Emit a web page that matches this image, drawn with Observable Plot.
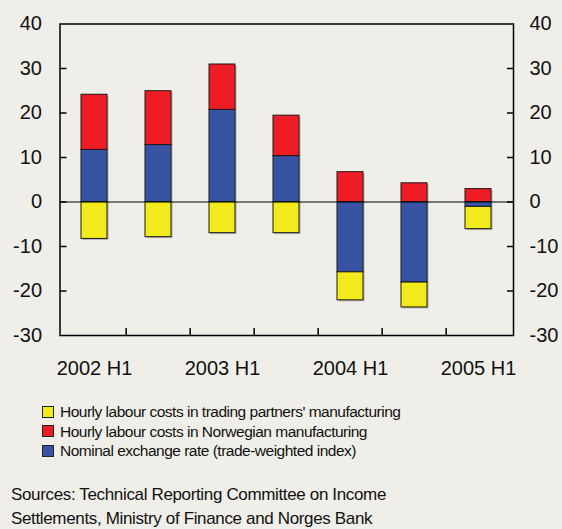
<!DOCTYPE html>
<html><head><meta charset="utf-8">
<script src="https://cdn.jsdelivr.net/npm/d3@7"></script>
<script src="https://cdn.jsdelivr.net/npm/@observablehq/plot@0.6"></script>
<style>
html,body{margin:0;padding:0;background:#f0eee8;}
body{width:562px;height:529px;overflow:hidden;font-family:"Liberation Sans",Arial,sans-serif;color:#111;}
#legend{position:absolute;left:42px;top:402px;font-size:15.5px;letter-spacing:-0.5px;line-height:19.5px;}
.item{display:flex;align-items:center;height:19.5px;}
.sw{width:10px;height:10px;border:1px solid #222;margin-right:6px;}
#src{position:absolute;left:11px;top:483px;font-size:17px;line-height:23.5px;letter-spacing:-0.35px;}
</style></head>
<body>
<div id="chart"></div>
<div id="legend"></div>
<div id="src">Sources: Technical Reporting Committee on Income<br>Settlements, Ministry of Finance and Norges Bank</div>
<script>
const periods = ["2002 H1","2002 H2","2003 H1","2003 H2","2004 H1","2004 H2","2005 H1"];
const exchangeRate = [11.7, 12.8, 20.7, 10.3, -15.8, -18.1, -1.1];
const norwegianCosts = [12.4, 12.1, 10.2, 9.1, 6.7, 4.2, 2.9];
const partnerCosts = [-8.3, -7.9, -7.0, -7.0, -6.3, -5.6, -5.0];
const seriesNames = [
  "Nominal exchange rate (trade-weighted index)",
  "Hourly labour costs in Norwegian manufacturing",
  "Hourly labour costs in trading partners' manufacturing"
];
const seriesColors = ["#3953a4", "#ee1c25", "#f2ea1a"];
const legendOrder = [2, 1, 0];
const yTicks = [-30, -20, -10, 0, 10, 20, 30, 40];

const data = [];
[exchangeRate, norwegianCosts, partnerCosts].forEach((vals, s) => {
  vals.forEach((v, i) => data.push({period: periods[i], series: seriesNames[s], value: v}));
});

const W = 562, H = 390, mL = 59.5, mR = 49, mT = 23.5, mB = 55;
const pIn = 0.59, pOut = 0.3;
const step = (W - mL - mR) / (periods.length - pIn + 2 * pOut);
const font = "Liberation Sans, Arial, sans-serif";
const fmt = d => String(d).replace("−", "-");

const chart = Plot.plot({
  width: W, height: H,
  marginLeft: mL, marginRight: mR, marginTop: mT, marginBottom: mB,
  style: {background: "transparent", fontFamily: font, fontSize: "20px", color: "#111"},
  x: {domain: periods, paddingInner: pIn, paddingOuter: pOut, axis: null},
  y: {domain: [-30, 40], axis: null},
  color: {domain: seriesNames, range: seriesColors},
  marks: [
    Plot.barY(data, {x: "period", y: "value", fill: "#9a9890", dx: 1.5, dy: 1.5, order: null, fillOpacity: 0.7}),
    Plot.barY(data, {x: "period", y: "value", fill: "series", stroke: "#1a1a1a", strokeWidth: 1, order: null}),
    Plot.ruleY([0], {stroke: "#000", strokeWidth: 1}),
    Plot.frame({stroke: "#000", strokeWidth: 1.5}),
    Plot.axisY({anchor: "left", ticks: yTicks, tickSize: 0, tickPadding: 18, fontSize: 20, label: null, tickFormat: fmt}),
    Plot.axisY({anchor: "right", ticks: yTicks, tickSize: 0, tickPadding: 16, fontSize: 20, label: null, tickFormat: fmt}),
    Plot.axisY({anchor: "left", ticks: yTicks.slice(1, -1), tickSize: 7, dx: 7, text: null, label: null, stroke: "#000", strokeWidth: 1.5}),
    Plot.axisY({anchor: "right", ticks: yTicks.slice(1, -1), tickSize: 7, dx: -7, text: null, label: null, stroke: "#000", strokeWidth: 1.5}),
    Plot.ruleX(periods.slice(1), {x: d => d, y1: -30, y2: -28.4, dx: -step / 2, stroke: "#000", strokeWidth: 1.5}),
    Plot.axisX({anchor: "bottom", tickSize: 0, tickPadding: 25, fontSize: 20, label: null, tickFormat: d => d.endsWith("H1") ? d : ""})
  ]
});
document.getElementById("chart").appendChild(chart);

const leg = document.getElementById("legend");
legendOrder.forEach(i => {
  const it = document.createElement("div");
  it.className = "item";
  it.innerHTML = `<span class="sw" style="background:${seriesColors[i]}"></span><span>${seriesNames[i]}</span>`;
  leg.appendChild(it);
});
</script>
</body></html>
